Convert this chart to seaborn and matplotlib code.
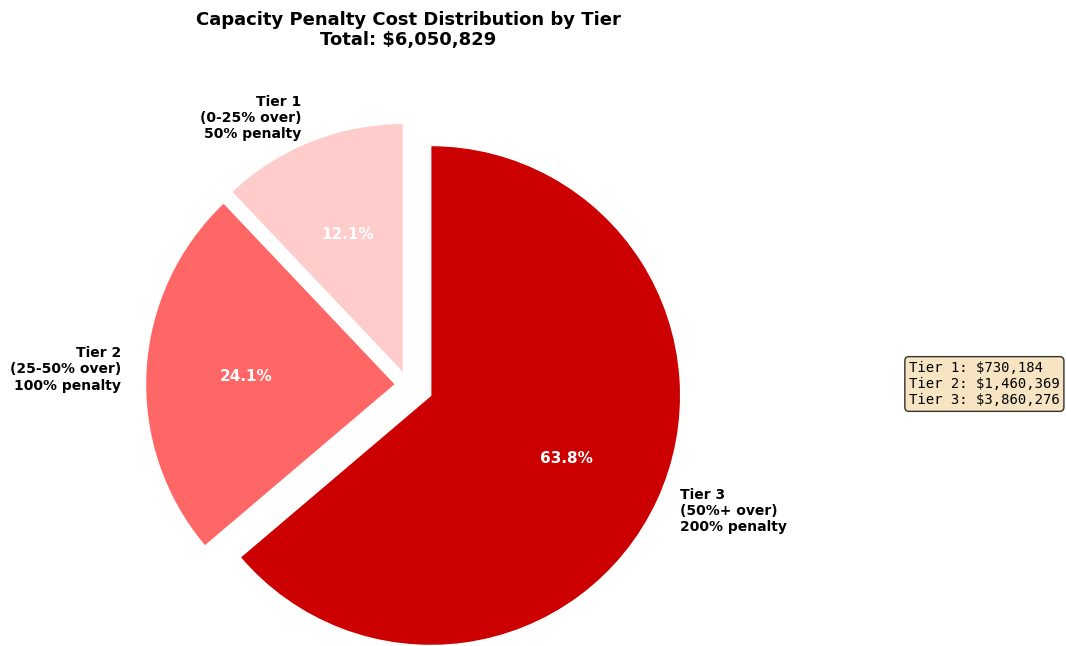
import matplotlib
matplotlib.use("Agg")
import matplotlib.pyplot as plt
import seaborn as sns

sns.set_style("white")
plt.rcParams["text.color"] = "black"

# Penalty costs per tier (USD)
tiers = ["Tier 1", "Tier 2", "Tier 3"]
tier_ranges = ["(0-25% over)", "(25-50% over)", "(50%+ over)"]
tier_penalties = ["50% penalty", "100% penalty", "200% penalty"]
costs = [730184, 1460369, 3860276]
colors = ["#ffcccc", "#ff6666", "#cc0000"]
explode = [0.05, 0.05, 0.1]

total = sum(costs)
labels = [f"{t}\n{r}\n{p}" for t, r, p in zip(tiers, tier_ranges, tier_penalties)]

W, H = 1066, 646
fig = plt.figure(figsize=(W / 100, H / 100), dpi=100)
ax = fig.add_axes([0, 0, 1, 1])

wedges, texts, autotexts = ax.pie(
    costs,
    labels=labels,
    colors=colors,
    explode=explode,
    startangle=90,
    autopct="%1.1f%%",
    textprops={"fontsize": 10, "fontweight": "bold", "color": "black"},
)
for t in autotexts:
    t.set_color("white")
    t.set_fontsize(11)
    t.set_fontweight("bold")

# place the pie: centre at pixel (408, 385), radius 250 px
scale = 250.0
cx, cy = 408.0, 385.0
ax.set_aspect("auto")
ax.set_xlim(-cx / scale, (W - cx) / scale)
ax.set_ylim(-(H - cy) / scale, cy / scale)
ax.axis("off")

fig.text(
    cx / W, 1 - 11 / H,
    f"Capacity Penalty Cost Distribution by Tier\nTotal: ${total:,}",
    ha="center", va="top", fontsize=13, fontweight="bold", color="black",
    linespacing=1.15,
)

summary = "\n".join(f"{t}: ${c:,}" for t, c in zip(tiers, costs))
ax.text(
    909 / W, 1 - 384 / H, summary,
    transform=ax.transAxes, ha="left", va="center",
    fontsize=10, family="monospace", color="black",
    bbox=dict(boxstyle="round", facecolor="wheat", edgecolor="black", alpha=0.8),
)

fig.savefig("out.png", dpi=100)
